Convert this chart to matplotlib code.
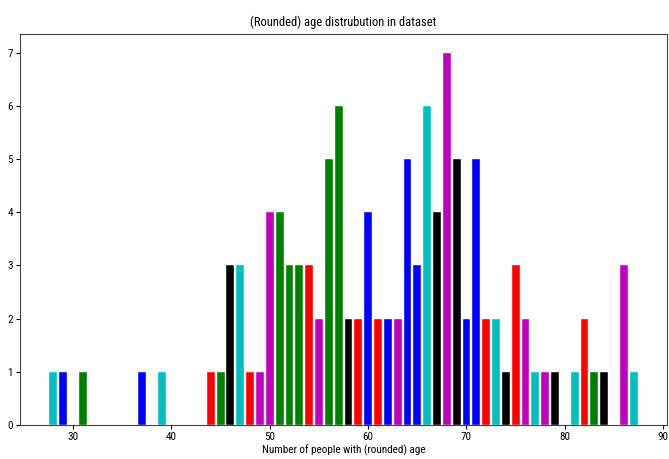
import matplotlib
matplotlib.use("Agg")
import matplotlib.pyplot as plt

plt.rcParams['font.family'] = ['Roboto Condensed', 'DejaVu Sans']

# rounded ages and how many people have each one
ages = [28, 29, 31, 37, 39, 44, 45, 46, 47, 48, 49, 50, 51, 52, 53, 54, 55,
        56, 57, 58, 59, 60, 61, 62, 63, 64, 65, 66, 67, 68, 69, 70, 71, 72,
        73, 74, 75, 76, 77, 78, 79, 81, 82, 83, 84, 86, 87]
counts = [1, 1, 1, 1, 1, 1, 1, 3, 3, 1, 1, 4, 4, 3, 3, 3, 2,
          5, 6, 2, 2, 4, 2, 2, 2, 5, 3, 6, 4, 7, 5, 2, 5, 2,
          2, 1, 3, 2, 1, 1, 1, 1, 2, 1, 1, 3, 1]
colors = ['c', 'b', 'g', 'b', 'c', 'r', 'g', 'k', 'c', 'r', 'm', 'm', 'g', 'g', 'g', 'r', 'm',
          'g', 'g', 'k', 'r', 'b', 'r', 'b', 'm', 'b', 'b', 'c', 'k', 'm', 'k', 'b', 'b', 'r',
          'c', 'k', 'r', 'm', 'c', 'm', 'k', 'c', 'r', 'g', 'k', 'm', 'c']

fig = plt.figure(figsize=(6.69, 4.59), dpi=100)
ax = fig.add_axes([0.030, 0.074, 0.967, 0.852])
ax.bar(ages, counts, color=colors, edgecolor='white', linewidth=0.3)
ax.set_title("(Rounded) age distrubution in dataset", fontsize=9)
ax.set_xlabel("Number of people with (rounded) age", fontsize=8, labelpad=2)
ax.tick_params(labelsize=8, length=3, pad=2)
for s in ax.spines.values():
    s.set_color('#444444')
plt.savefig("out.png")
